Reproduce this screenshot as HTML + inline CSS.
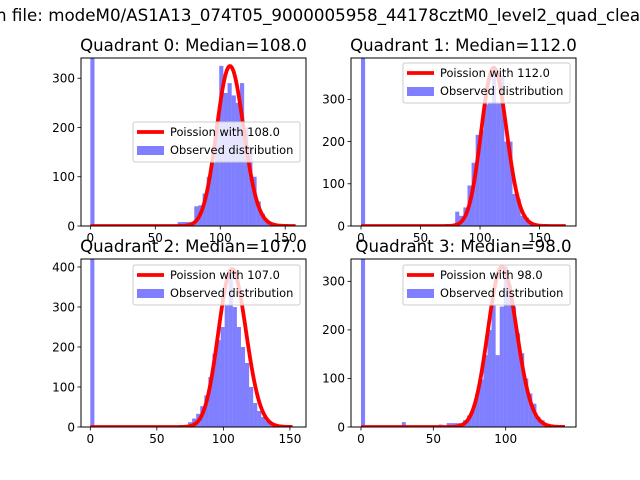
<!DOCTYPE html>
<html><head><meta charset="utf-8"><style>
body{margin:0;background:#fff}
svg{display:block;font-family:"DejaVu Sans","Liberation Sans",sans-serif}
</style></head><body>
<svg id="fig" width="640" height="480" viewBox="0 0 640 480">
<rect width="640" height="480" fill="#fff"/>
<text x="-4" y="21" font-size="16.7" fill="#000">n file: modeM0/AS1A13_074T05_9000005958_44178cztM0_level2_quad_clean.evt</text>
</svg>
<script>
const titles=["Quadrant 0: Median=108.0","Quadrant 1: Median=112.0","Quadrant 2: Median=107.0","Quadrant 3: Median=98.0"];
const medians=[108,112,107,98];
const binWidths=[3.2,3.44,3.06,2.82];
const zeroBinCounts=[3000,3000,3000,3000];
const startBins=[9,19,24,10];
const counts0=[3,3,0,0,0,0,0,0,0,0,0,0,8,8,8,8,40,42,66,100,128,210,325,270,290,265,250,290,200,160,100,50,25,12,5,3,2];
const counts1=[2,2,2,2,34,24,44,96,150,216,228,288,290,360,290,356,200,200,76,64,24,20,8,3];
const counts2=[12,21,33,52,79,125,183,217,250,305,390,300,250,200,160,100,60,40,25,15,8,3];
const counts3=[10,0,0,0,0,0,0,0,0,5,0,8,8,8,8,14,24,36,69,98,148,200,250,148,248,331,293,248,193,152,100,69,48,21,14,7];
const curveScales=[8460,9948,10242,8188];
const curveMax=[158,172,152,141];
const xTicks=[[0,50,100,150],[0,50,100,150],[0,50,100,150],[0,50,100]];
const yTicks=[[0,100,200,300],[0,100,200,300],[0,100,200,300,400],[0,100,200,300]];
const xLims=[[-7.2,166],[-8.4,180.6],[-7,162.1],[-6.9,148.6]];
const yLims=[[0,341],[0,398],[0,420],[0,346]];
const allCounts=[counts0,counts1,counts2,counts3];
const boxes=[[81,58,306,226],[351,58,576,226],[81,259,306,427],[351,259,576,427]];
const legendPos=[[133,122],[403,63],[133,265],[403,265]];

const NS="http://www.w3.org/2000/svg";
const fig=document.getElementById('fig');
function mk(tag,attrs,parent){const e=document.createElementNS(NS,tag);for(const k in attrs)e.setAttribute(k,attrs[k]);(parent||fig).appendChild(e);return e;}
function lgamma(z){const c=[76.18009172947146,-86.50532032941677,24.01409824083091,-1.231739572450155,0.1208650973866179e-2,-0.5395239384953e-5];let x=z,y=z,t=x+5.5;t-=(x+0.5)*Math.log(t);let s=1.000000000190015;for(let j=0;j<6;j++)s+=c[j]/++y;return -t+Math.log(2.5066282746310005*s/x);}
function pois(k,l){return Math.exp(k*Math.log(l)-l-lgamma(k+1));}

for(let q=0;q<4;q++){
  const [L,T,R,B]=boxes[q];
  const g=mk('g',{});
  
  
  const xs=v=>L+(v-xLims[q][0])/(xLims[q][1]-xLims[q][0])*(R-L);
  const ys=v=>B-(v-yLims[q][0])/(yLims[q][1]-yLims[q][0])*(B-T);
  const cid='clip'+q;
  const cp=mk('clipPath',{id:cid},g);mk('rect',{x:L,y:T,width:R-L,height:B-T},cp);
  const plot=mk('g',{'clip-path':'url(#'+cid+')'},g);
  const bw=binWidths[q];
  const bars=[[0,zeroBinCounts[q]]];
  allCounts[q].forEach((c,i)=>bars.push([startBins[q]+i,c]));
  bars.forEach(([bi,c])=>{
    if(c<=0)return;
    const x0=xs(bi*bw),x1=xs((bi+1)*bw);
    const r=mk('rect',{x:x0,y:ys(c),width:x1-x0,height:ys(0)-ys(c),fill:'#0000ff','fill-opacity':0.5},plot);
    
    
  });
  let d='';
  for(let k=0;k<=curveMax[q];k++){const v=pois(k,medians[q])*curveScales[q];d+=(k?'L':'M')+xs(k).toFixed(2)+','+ys(v).toFixed(2);}
  const line=mk('path',{d:d,fill:'none',stroke:'#ff0000','stroke-width':3.8,'stroke-linejoin':'round'},plot);
  
  
  mk('rect',{x:L,y:T,width:R-L,height:B-T,fill:'none',stroke:'#000','stroke-width':1},g);
  xTicks[q].forEach(t=>{
    const x=xs(t);
    mk('line',{x1:x,x2:x,y1:B,y2:B+3.5,stroke:'#000','stroke-width':0.8},g);
    const tx=mk('text',{x:x,y:B+16,'font-size':12,'text-anchor':'middle'},g);tx.textContent=t;
    
    
  });
  yTicks[q].forEach(t=>{
    const y=ys(t);
    mk('line',{x1:L-3.5,x2:L,y1:y,y2:y,stroke:'#000','stroke-width':0.8},g);
    const tx=mk('text',{x:L-6,y:y+4.3,'font-size':12,'text-anchor':'end'},g);tx.textContent=t;
    
    
  });
  const tt=mk('text',{x:(L+R)/2,y:T-7,'font-size':16.6,'text-anchor':'middle'},g);tt.textContent=titles[q];
  
  
  const [lx,ly]=legendPos[q];
  const lg=mk('g',{},g);
  
  
  mk('rect',{x:lx,y:ly,width:167,height:40,rx:2,fill:'#fff','fill-opacity':0.8,stroke:'#cccccc','stroke-width':1},lg);
  mk('line',{x1:lx+4,x2:lx+31,y1:ly+10,y2:ly+10,stroke:'#ff0000','stroke-width':3.8},lg);
  const t1=mk('text',{x:lx+37,y:ly+14,'font-size':11.4},lg);t1.textContent='Poission with '+medians[q].toFixed(1);
  
  
  mk('rect',{x:lx+4,y:ly+24,width:27,height:9,fill:'#0000ff','fill-opacity':0.5},lg);
  const t2=mk('text',{x:lx+37,y:ly+32,'font-size':11.4},lg);t2.textContent='Observed distribution';
  
  
}
</script>
</body></html>
